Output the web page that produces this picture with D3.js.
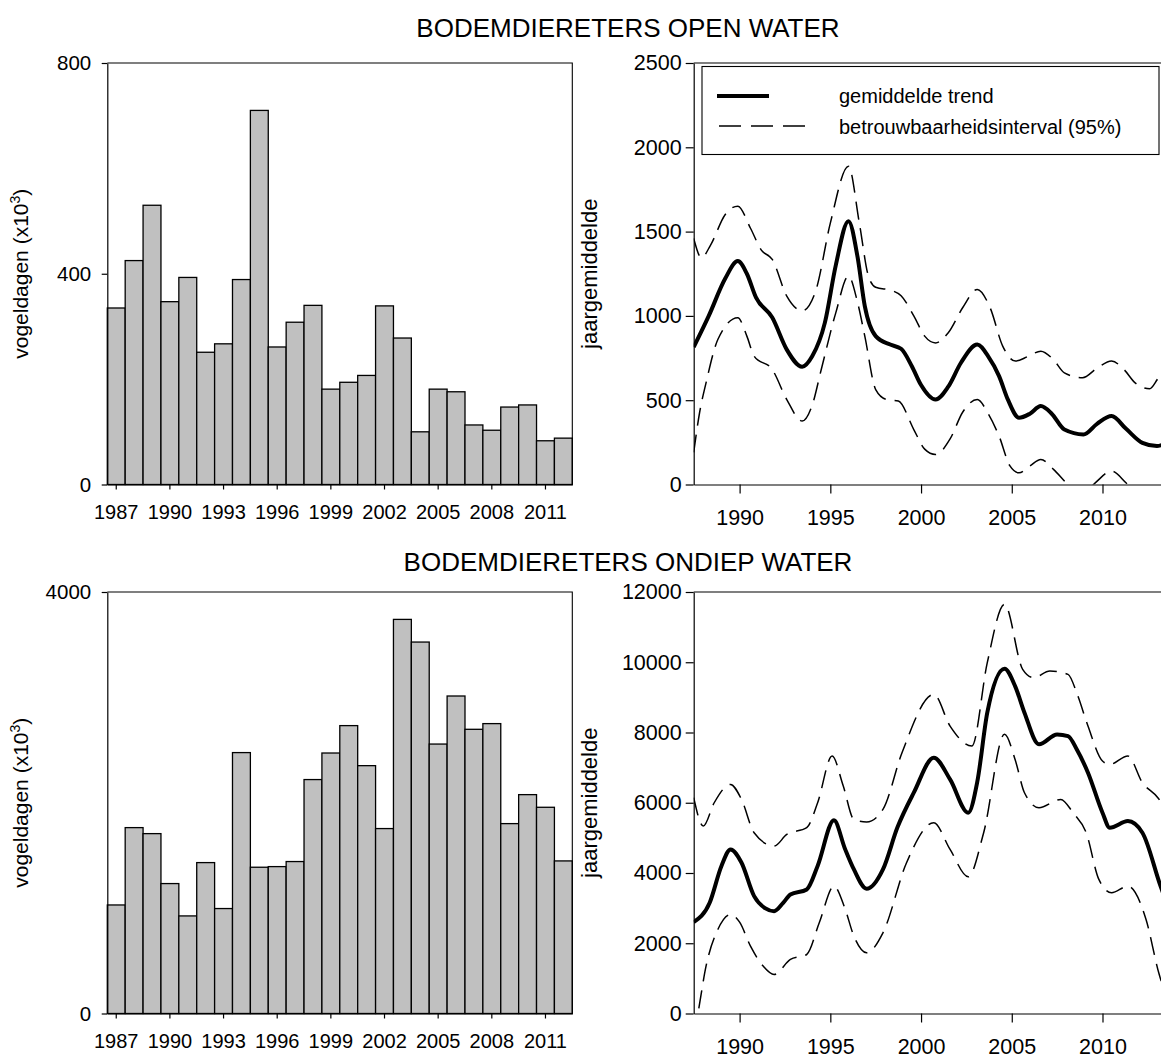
<!DOCTYPE html>
<html>
<head>
<meta charset="utf-8">
<script src="https://cdn.jsdelivr.net/npm/d3@7"></script>
<style>
  body { margin: 0; background: #fff; }
  svg { display: block; }
</style>
</head>
<body>
<svg id="chart" width="1161" height="1059"></svg>
<script>
// ---- data -------------------------------------------------------------
const years = [1987, 1988, 1989, 1990, 1991, 1992, 1993, 1994, 1995, 1996, 1997, 1998, 1999,
               2000, 2001, 2002, 2003, 2004, 2005, 2006, 2007, 2008, 2009, 2010, 2011, 2012];

// bird-days (x1000) per season
const openWaterDays = [335, 425, 530, 347, 393, 251, 267, 389, 710, 261, 308, 340, 181,
                       194, 207, 339, 278, 100, 181, 176, 113, 103, 147, 151, 83, 88];
const shallowWaterDays = [1030, 1764, 1707, 1233, 926, 1432, 996, 2476, 1388, 1394, 1442, 2220, 2472,
                          2732, 2352, 1755, 3740, 3525, 2557, 3013, 2697, 2751, 1802, 2077, 1957, 1448];

// smoothed yearly mean with 95% band, as [year, value]
const openTrend = [[1987.47, 815], [1988.3, 1000], [1989.2, 1220], [1989.9, 1325], [1990.4, 1250],
  [1990.9, 1110], [1991.8, 990], [1992.6, 800], [1993.45, 698], [1994.0, 760], [1994.7, 960],
  [1995.3, 1300], [1996.0, 1562], [1996.5, 1350], [1996.9, 1058], [1997.5, 880], [1998.3, 830],
  [1998.9, 805], [1999.5, 700], [2000.0, 590], [2000.8, 504], [2001.5, 580], [2002.2, 722],
  [2003.1, 830], [2003.7, 760], [2004.3, 643], [2004.8, 500], [2005.4, 396], [2006.0, 420],
  [2006.6, 465], [2007.2, 420], [2007.9, 326], [2008.95, 297], [2009.7, 360], [2010.5, 406],
  [2011.3, 330], [2012.2, 247], [2013.0, 228], [2013.5, 245]];
const openUpper = [[1987.47, 1460], [1987.9, 1345], [1988.4, 1420], [1989.2, 1600], [1989.9, 1651],
  [1990.6, 1520], [1991.2, 1390], [1991.8, 1335], [1992.6, 1117], [1993.45, 1030], [1994.2, 1150],
  [1995.0, 1550], [1996.0, 1888], [1996.6, 1550], [1997.1, 1236], [1997.5, 1170], [1998.4, 1150],
  [1998.9, 1120], [1999.6, 1000], [2000.2, 880], [2000.8, 840], [2001.5, 900], [2002.3, 1050],
  [2003.1, 1157], [2003.8, 1050], [2004.5, 821], [2005.2, 732], [2005.9, 760], [2006.6, 791],
  [2007.3, 740], [2007.9, 662], [2008.9, 633], [2009.7, 690], [2010.5, 732], [2011.2, 680],
  [2011.8, 603], [2012.6, 568], [2013.0, 620], [2013.5, 720]];
const openLower = [[1987.47, 190], [1987.8, 430], [1988.15, 603], [1988.8, 860], [1989.9, 989],
  [1990.4, 880], [1990.8, 761], [1991.8, 682], [1992.6, 504], [1993.45, 376], [1994.0, 470],
  [1994.5, 682], [1995.3, 1018], [1996.0, 1236], [1996.5, 1080], [1996.9, 880], [1997.5, 563],
  [1998.1, 504], [1998.75, 495], [1999.6, 326], [2000.2, 210], [2000.8, 178], [2001.6, 270],
  [2002.3, 430], [2003.1, 504], [2003.7, 420], [2004.3, 287], [2004.9, 110], [2005.4, 69],
  [2006.0, 110], [2006.6, 148], [2007.3, 90], [2008.1, 0], [2008.9, -60], [2009.6, 10],
  [2010.5, 79], [2011.4, 0], [2012.4, -80], [2013.5, -50]];

const shallowTrend = [[1987.47, 2601], [1988.35, 3153], [1989.0, 4200], [1989.5, 4671], [1990.1, 4300],
  [1990.8, 3341], [1991.4, 3000], [1991.9, 2914], [1992.4, 3150], [1992.8, 3389], [1993.7, 3532],
  [1994.3, 4200], [1995.2, 5500], [1995.8, 4700], [1996.3, 4101], [1997.0, 3551], [1997.9, 4101],
  [1998.7, 5300], [1999.6, 6286], [2000.7, 7282], [2001.6, 6665], [2002.6, 5716], [2003.1, 6600],
  [2003.65, 8564], [2004.6, 9817], [2005.2, 9300], [2005.7, 8564], [2006.5, 7662], [2007.5, 7946],
  [2008.1, 7899], [2008.6, 7500], [2009.2, 6856], [2010.0, 5716], [2010.4, 5289], [2011.4, 5477],
  [2012.2, 5147], [2013.2, 3626], [2013.5, 3200]];
const shallowUpper = [[1987.47, 6144], [1988.0, 5335], [1988.6, 6000], [1989.5, 6522], [1990.1, 6100],
  [1990.8, 5147], [1991.9, 4765], [1992.6, 5098], [1993.7, 5289], [1994.3, 6000], [1995.1, 7329],
  [1995.7, 6500], [1996.3, 5525], [1997.0, 5450], [1997.9, 5810], [1998.95, 7425], [2000.7, 9085],
  [2001.6, 8183], [2002.8, 7613], [2003.65, 9988], [2004.6, 11649], [2005.6, 9798], [2006.2, 9561],
  [2007.1, 9750], [2008.1, 9655], [2008.6, 9100], [2009.2, 8183], [2010.0, 7187], [2010.4, 7092],
  [2011.4, 7329], [2012.2, 6571], [2013.05, 6144], [2013.5, 5800]];
const shallowLower = [[1987.47, -600], [1987.7, 0], [1988.15, 1347], [1988.8, 2392], [1989.5, 2820],
  [1990.0, 2600], [1990.6, 1917], [1991.3, 1350], [1991.9, 1111], [1992.8, 1538], [1993.7, 1680],
  [1994.4, 2600], [1995.2, 3626], [1995.8, 3000], [1996.3, 2202], [1997.0, 1728], [1997.9, 2298],
  [1999.2, 4292], [2000.7, 5431], [2001.6, 4671], [2002.6, 3893], [2003.45, 5147], [2004.6, 7950],
  [2005.2, 7200], [2005.7, 6286], [2006.5, 5858], [2007.7, 6095], [2008.4, 5700], [2009.1, 5147],
  [2009.8, 3817], [2010.5, 3438], [2011.4, 3626], [2012.4, 2677], [2013.1, 1159], [2013.5, 500]];

// axis ticks and labels
const barTickYears = [1987, 1990, 1993, 1996, 1999, 2002, 2005, 2008, 2011];
const trendTickYears = [1990, 1995, 2000, 2005, 2010];
const openBarTicks = [0, 400, 800];
const shallowBarTicks = [0, 4000];
const openTrendTicks = [0, 500, 1000, 1500, 2000, 2500];
const shallowTrendTicks = [0, 2000, 4000, 6000, 8000, 10000, 12000];
const titles = ["BODEMDIERETERS OPEN WATER", "BODEMDIERETERS ONDIEP WATER"];
const legendLabels = ["gemiddelde trend", "betrouwbaarheidsinterval (95%)"];
const trendAxisLabel = "jaargemiddelde";

// ---- drawing ----------------------------------------------------------
const FONT = '"Liberation Sans", Arial, Helvetica, sans-serif';
const svg = d3.select("#chart");
svg.append("rect").attr("width", 1161).attr("height", 1059).attr("fill", "#fff");

const barLeft = 107.3, barRight = 572.3;
const trendLeft = 693.7, trendRight = 1166;

function styleAxis(g, size) {
  g.attr("font-family", FONT).attr("font-size", size);
  g.selectAll(".domain").attr("stroke", "#000").attr("stroke-width", 1.2);
  g.selectAll(".tick line").attr("stroke", "#000").attr("stroke-width", 1.2);
  g.selectAll(".tick text").attr("fill", "#000");
}

const panels = [
  { title: titles[0], titleY: 37, top: 63, bottom: 484.5,
    bars: openWaterDays, barMax: 800, barTicks: openBarTicks,
    trend: openTrend, upper: openUpper, lower: openLower,
    trendMax: 2500, trendTicks: openTrendTicks, legend: true },
  { title: titles[1], titleY: 571, top: 592, bottom: 1013.5,
    bars: shallowWaterDays, barMax: 4000, barTicks: shallowBarTicks,
    trend: shallowTrend, upper: shallowUpper, lower: shallowLower,
    trendMax: 12000, trendTicks: shallowTrendTicks, legend: false }
];

panels.forEach((p, i) => {
  // panel title
  svg.append("text")
    .attr("x", 628).attr("y", p.titleY)
    .attr("text-anchor", "middle")
    .attr("font-family", FONT).attr("font-size", 26)
    .attr("fill", "#000")
    .text(p.title);

  // ---- bar chart of bird-days ----
  const x = d3.scaleBand().domain(years).range([barLeft, barRight]).padding(0);
  const y = d3.scaleLinear().domain([0, p.barMax]).range([p.bottom, p.top]);
  const gb = svg.append("g");

  gb.selectAll("rect.bar")
    .data(years.map((yr, k) => ({ year: yr, value: p.bars[k] })))
    .join("rect")
    .attr("class", "bar")
    .attr("x", d => x(d.year))
    .attr("y", d => y(d.value))
    .attr("width", x.bandwidth())
    .attr("height", d => y(0) - y(d.value))
    .attr("fill", "#c0c0c0")
    .attr("stroke", "#000")
    .attr("stroke-width", 1.3);

  // frame: top and right edges
  gb.append("path")
    .attr("d", `M${barLeft},${p.top}H${barRight}V${p.bottom}`)
    .attr("fill", "none").attr("stroke", "#000").attr("stroke-width", 1.1);

  const yAx = gb.append("g").attr("transform", `translate(${barLeft},0)`)
    .call(d3.axisLeft(y).tickValues(p.barTicks).tickFormat(d3.format("d"))
      .tickSize(5.6).tickPadding(10.5).tickSizeOuter(0));
  styleAxis(yAx, 20.5);

  const xAx = gb.append("g").attr("transform", `translate(0,${p.bottom})`)
    .call(d3.axisBottom(x).tickValues(barTickYears).tickSize(5).tickPadding(15.5).tickSizeOuter(0));
  styleAxis(xAx, 20);

  const yl = gb.append("text")
    .attr("transform", `translate(28,${(p.top + p.bottom) / 2}) rotate(-90)`)
    .attr("text-anchor", "middle")
    .attr("font-family", FONT).attr("font-size", 21).attr("fill", "#000");
  yl.append("tspan").text("vogeldagen (x10");
  yl.append("tspan").attr("dy", -8).attr("font-size", 14).text("3");
  yl.append("tspan").attr("dy", 8).text(")");

  // ---- trend chart ----
  const tx = d3.scaleLinear().domain([1987.47, 2013.5]).range([trendLeft, trendRight]);
  const ty = d3.scaleLinear().domain([0, p.trendMax]).range([p.bottom, p.top]);
  const gt = svg.append("g");

  const clipId = "clip" + i;
  svg.append("clipPath").attr("id", clipId)
    .append("rect")
    .attr("x", trendLeft).attr("y", p.top)
    .attr("width", trendRight - trendLeft).attr("height", p.bottom - p.top);

  const line = d3.line().x(d => tx(d[0])).y(d => ty(d[1])).curve(d3.curveMonotoneX);
  const curves = gt.append("g").attr("clip-path", `url(#${clipId})`);
  [p.upper, p.lower].forEach(s => {
    curves.append("path").attr("d", line(s))
      .attr("fill", "none").attr("stroke", "#000")
      .attr("stroke-width", 1.5).attr("stroke-dasharray", "18,9");
  });
  curves.append("path").attr("d", line(p.trend))
    .attr("fill", "none").attr("stroke", "#000")
    .attr("stroke-width", 4).attr("stroke-linejoin", "round");

  // top edge of frame
  gt.append("line")
    .attr("x1", trendLeft).attr("x2", trendRight)
    .attr("y1", p.top).attr("y2", p.top)
    .attr("stroke", "#000").attr("stroke-width", 1.1);

  const tyAx = gt.append("g").attr("transform", `translate(${trendLeft},0)`)
    .call(d3.axisLeft(ty).tickValues(p.trendTicks).tickFormat(d3.format("d"))
      .tickSize(8).tickPadding(4).tickSizeOuter(0));
  styleAxis(tyAx, 21.5);

  const txAx = gt.append("g").attr("transform", `translate(0,${p.bottom})`)
    .call(d3.axisBottom(tx).tickValues(trendTickYears).tickFormat(d3.format("d"))
      .tickSize(9).tickPadding(16).tickSizeOuter(0));
  styleAxis(txAx, 21.5);

  gt.append("text")
    .attr("transform", `translate(597,${(p.top + p.bottom) / 2}) rotate(-90)`)
    .attr("text-anchor", "middle")
    .attr("font-family", FONT).attr("font-size", 22).attr("fill", "#000")
    .text(trendAxisLabel);

  if (p.legend) {
    const lg = gt.append("g");
    lg.append("rect")
      .attr("x", 702).attr("y", 66.5).attr("width", 457).attr("height", 88)
      .attr("fill", "#fff").attr("stroke", "#000").attr("stroke-width", 1.1);
    lg.append("line").attr("x1", 717).attr("x2", 769).attr("y1", 96).attr("y2", 96)
      .attr("stroke", "#000").attr("stroke-width", 4);
    lg.append("line").attr("x1", 719).attr("x2", 806).attr("y1", 126).attr("y2", 126)
      .attr("stroke", "#000").attr("stroke-width", 1.5).attr("stroke-dasharray", "22,10");
    lg.selectAll("text.lab").data(legendLabels).join("text")
      .attr("class", "lab")
      .attr("x", 839).attr("y", (d, k) => 103 + k * 31)
      .attr("font-family", FONT).attr("font-size", 20).attr("fill", "#000")
      .text(d => d);
  }
});
</script>
</body>
</html>
